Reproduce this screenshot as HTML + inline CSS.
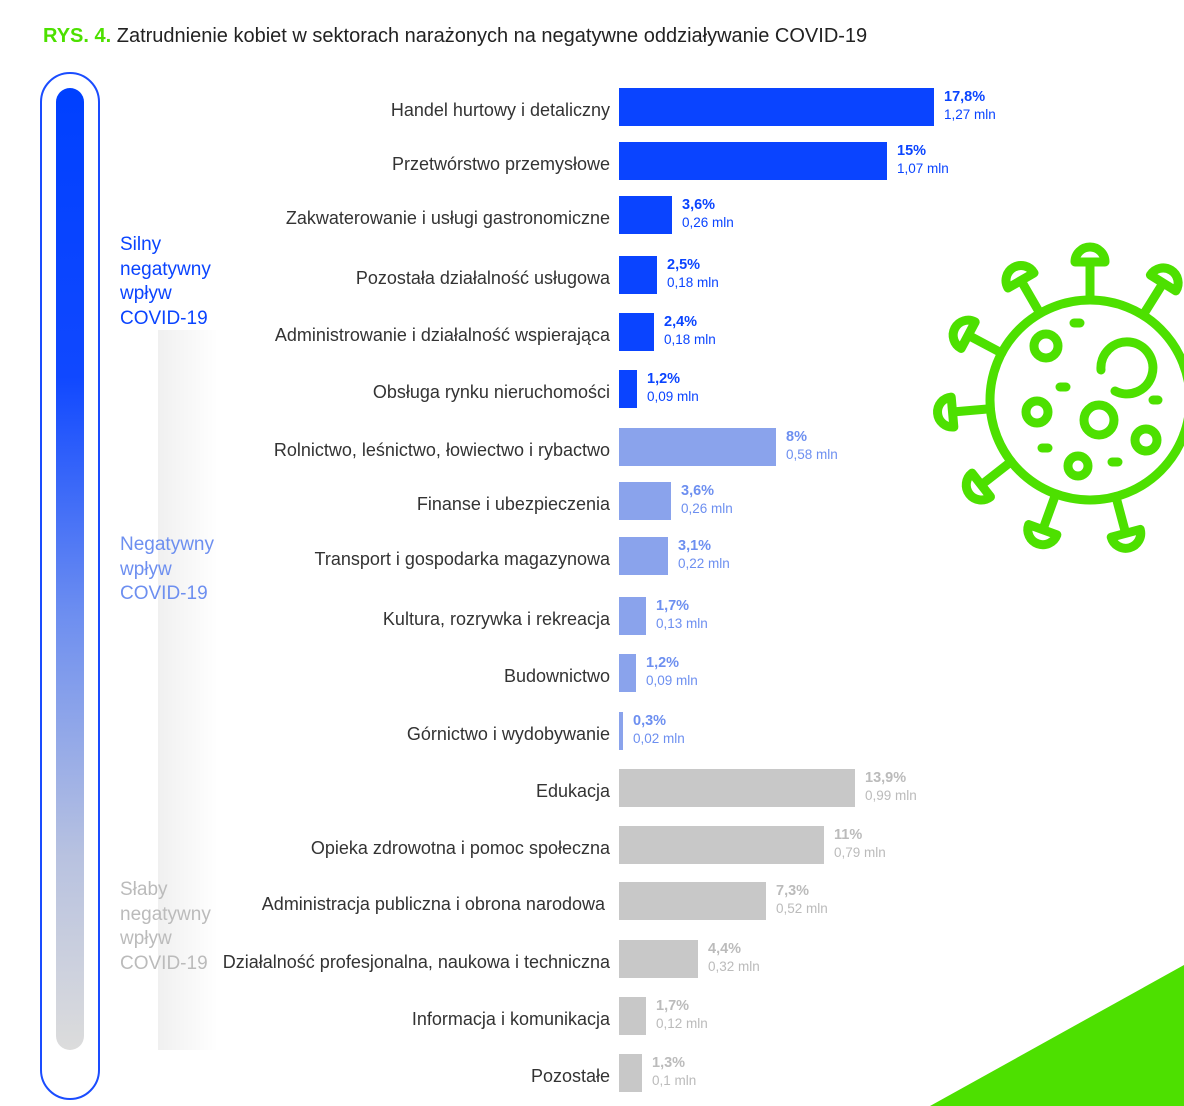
<!DOCTYPE html>
<html><head><meta charset="utf-8"><style>
body{margin:0;background:#fff;width:1184px;height:1106px;overflow:hidden;position:relative;font-family:"Liberation Sans",sans-serif}
.t{position:absolute;left:43px;top:25px;font-size:20px;color:#222}
.t b{color:#4de000}
.lab{position:absolute;right:574px;font-size:18px;color:#333;white-space:nowrap}
.bar{position:absolute;left:619px;height:38px}
.v{position:absolute;font-size:13.5px;line-height:17px;white-space:nowrap}
.v b{font-size:14.5px}
.side{position:absolute;left:120px;font-size:19px;line-height:24.5px}
</style></head><body>
<div class="t"><b>RYS. 4.</b> Zatrudnienie kobiet w sektorach narażonych na negatywne oddziaływanie COVID-19</div>
<div style="position:absolute;left:158px;top:330px;width:60px;height:720px;background:linear-gradient(90deg,#f0f0f0,#fff)"></div>
<div style="position:absolute;left:40px;top:72px;width:56px;height:1024px;border:2px solid #1a4cff;border-radius:30px"></div>
<div style="position:absolute;left:56px;top:88px;width:28px;height:962px;border-radius:14px;background:linear-gradient(#0040ff 0%,#1048ff 30%,#6e8ff0 55%,#b8c2e0 80%,#dcdcdc 100%)"></div>
<div class="side" style="top:233px;color:#0a44ff">Silny<br>negatywny<br>wpływ<br>COVID-19</div>
<div class="side" style="top:533px;color:#6d8ff0">Negatywny<br>wpływ<br>COVID-19</div>
<div class="side" style="top:878px;color:#bbb">Słaby<br>negatywny<br>wpływ<br>COVID-19</div>
<svg style="position:absolute;left:0;top:0" width="1184" height="1106">
<polygon points="930,1106 1184,965 1184,1106" fill="#4de000"/>
<g fill="none" stroke="#4de000" stroke-width="9" stroke-linecap="round" stroke-linejoin="round">
<circle cx="1090" cy="400" r="100"/>
<g id="sp">
<line x1="1090" y1="300" x2="1090" y2="265"/>
<path d="M1075,262 h30 a12,12 0 0 0 -30,0 z"/>
</g>
<use href="#sp" transform="rotate(32 1090 400)"/>
<use href="#sp" transform="rotate(-30 1090 400)"/>
<use href="#sp" transform="rotate(-62 1090 400)"/>
<use href="#sp" transform="rotate(-95 1090 400)"/>
<use href="#sp" transform="rotate(-128 1090 400)"/>
<use href="#sp" transform="rotate(-160 1090 400)"/>
<use href="#sp" transform="rotate(165 1090 400)"/>
<use href="#sp" transform="rotate(70 1090 400)"/>
<use href="#sp" transform="rotate(110 1090 400)"/>
<circle cx="1046" cy="346" r="12"/>
<path d="M1101,370 a26,26 0 1 1 14,21"/>
<circle cx="1037" cy="412" r="11"/>
<circle cx="1099" cy="420" r="15"/>
<circle cx="1146" cy="440" r="11"/>
<circle cx="1078" cy="466" r="10"/>
<line x1="1074" y1="323" x2="1080" y2="323"/>
<line x1="1060" y1="387" x2="1066" y2="387"/>
<line x1="1153" y1="400" x2="1158" y2="400"/>
<line x1="1042" y1="448" x2="1048" y2="448"/>
<line x1="1112" y1="462" x2="1118" y2="462"/>
</g>
</svg>
<div id="rows"></div>
<script>
var d=[
["Handel hurtowy i detaliczny",88,934,"17,8%","1,27 mln",0],
["Przetwórstwo przemysłowe",142,887,"15%","1,07 mln",0],
["Zakwaterowanie i usługi gastronomiczne",196,672,"3,6%","0,26 mln",0],
["Pozostała działalność usługowa",256,657,"2,5%","0,18 mln",0],
["Administrowanie i działalność wspierająca",313,654,"2,4%","0,18 mln",0],
["Obsługa rynku nieruchomości",370,637,"1,2%","0,09 mln",0],
["Rolnictwo, leśnictwo, łowiectwo i rybactwo",428,776,"8%","0,58 mln",1],
["Finanse i ubezpieczenia",482,671,"3,6%","0,26 mln",1],
["Transport i gospodarka magazynowa",537,668,"3,1%","0,22 mln",1],
["Kultura, rozrywka i rekreacja",597,646,"1,7%","0,13 mln",1],
["Budownictwo",654,636,"1,2%","0,09 mln",1],
["Górnictwo i wydobywanie",712,623,"0,3%","0,02 mln",1],
["Edukacja",769,855,"13,9%","0,99 mln",2],
["Opieka zdrowotna i pomoc społeczna",826,824,"11%","0,79 mln",2],
["Administracja publiczna i obrona narodowa&nbsp;",882,766,"7,3%","0,52 mln",2],
["Działalność profesjonalna, naukowa i techniczna",940,698,"4,4%","0,32 mln",2],
["Informacja i komunikacja",997,646,"1,7%","0,12 mln",2],
["Pozostałe",1054,642,"1,3%","0,1 mln",2]];
var bc=["#0a44ff","#8aa3ec","#c8c8c8"],tc=["#0a44ff","#6d8ff0","#bbb"],h="";
d.forEach(function(r){
h+='<div class="lab" style="top:'+(r[1]+12)+'px">'+r[0]+'</div>';
h+='<div class="bar" style="top:'+r[1]+'px;width:'+(r[2]-619)+'px;background:'+bc[r[5]]+'"></div>';
h+='<div class="v" style="left:'+(r[2]+10)+'px;top:'+r[1]+'px;color:'+tc[r[5]]+'"><b>'+r[3]+'</b><br>'+r[4]+'</div>';
});
document.getElementById("rows").innerHTML=h;
</script>
</body></html>
